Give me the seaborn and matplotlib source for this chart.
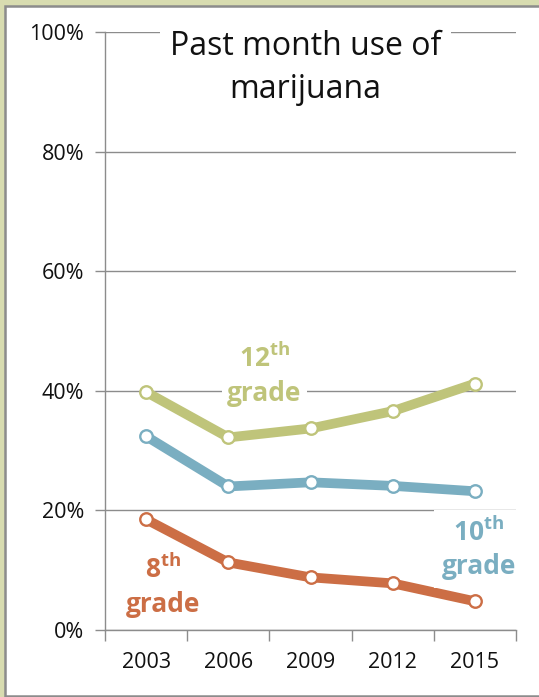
import matplotlib
matplotlib.use("Agg")
import matplotlib.pyplot as plt
from matplotlib.patches import Rectangle
from matplotlib.ticker import FixedLocator, FuncFormatter
import seaborn as sns
import pandas as pd

# Survey years and past-month marijuana use (%) by grade
years = ["2003", "2006", "2009", "2012", "2015"]
grade12 = [39.8, 32.2, 33.7, 36.6, 41.2]
grade10 = [32.4, 24.0, 24.7, 24.1, 23.2]
grade8 = [18.5, 11.3, 8.8, 7.8, 4.8]

grade_names = ["12th", "10th", "8th"]
colors = {"12th": "#BFC47A", "10th": "#7AAEC1", "8th": "#CC6E45"}

df = pd.DataFrame({
    "year": years * 3,
    "pct": grade12 + grade10 + grade8,
    "grade": [g for g in grade_names for _ in years],
})

sns.set_theme(style="white")
plt.rcParams["font.family"] = ["Open Sans", "DejaVu Sans"]
plt.rcParams["mathtext.fontset"] = "custom"
plt.rcParams["mathtext.rm"] = "Open Sans:bold"
plt.rcParams["mathtext.it"] = "Open Sans:bold"
plt.rcParams["mathtext.bf"] = "Open Sans:bold"

W, H = 539, 697
fig = plt.figure(figsize=(W / 100, H / 100), dpi=100, facecolor="#D8DCB0")

# white chart panel with a grey frame
panel = Rectangle((5 / W, 1 / H), 1.2, 1 - 7 / H, transform=fig.transFigure,
                  facecolor="white", edgecolor="#8C8C8C", linewidth=1.8, zorder=-1)
fig.add_artist(panel)

ax = fig.add_axes([105 / W, 1 - 630 / H, (516 - 105) / W, (630 - 32) / H])
ax.set_zorder(1)
ax.set_facecolor("none")

sns.lineplot(data=df, x="year", y="pct", hue="grade", hue_order=grade_names,
             palette=colors, sort=False, legend=False, ax=ax,
             linewidth=7, marker="o", markersize=9, zorder=3)
for line in ax.lines:
    line.set_markeredgecolor(line.get_color())
    line.set_markerfacecolor("white")
    line.set_markeredgewidth(1.7)
    line.set_solid_joinstyle("round")
    line.set_solid_capstyle("round")

ax.set_xlim(-0.5, len(years) - 0.5)
ax.set_ylim(0, 100)
ax.set_xlabel("")
ax.set_ylabel("")

grid_c = "#8C8C8C"
ax.yaxis.set_major_locator(FixedLocator([0, 20, 40, 60, 80, 100]))
ax.yaxis.set_major_formatter(FuncFormatter(lambda v, p: f"{v:.0f}%"))
ax.grid(axis="y", color=grid_c, linewidth=1.0, zorder=0)
ax.grid(axis="x", visible=False)
ax.set_axisbelow(True)

ax.tick_params(axis="y", which="major", left=True, length=7, width=1, color=grid_c,
               labelsize=15.5, labelcolor="#111111", pad=8)
ax.tick_params(axis="x", which="major", bottom=False, length=0, labelsize=15.5,
               labelcolor="#111111", pad=16)
ax.xaxis.set_minor_locator(FixedLocator([i - 0.5 for i in range(len(years) + 1)]))
ax.tick_params(axis="x", which="minor", bottom=True, length=8, width=1, color=grid_c)

for side in ["top", "right"]:
    ax.spines[side].set_visible(False)
for side in ["left", "bottom"]:
    ax.spines[side].set_color(grid_c)
    ax.spines[side].set_linewidth(1.0)

# chart title in a white box over the top gridline
ax.text(1.94, 94.0, "Past month use of\nmarijuana", ha="center", va="center",
        fontsize=23, color="#111111", linespacing=1.4, zorder=5,
        bbox=dict(boxstyle="square,pad=0.3", facecolor="white", edgecolor="none"))

# series labels
label_kw = dict(ha="center", va="center", fontsize=19, fontweight="bold",
                linespacing=1.3, zorder=5)
ax.text(1.44, 42.6, "$12^{th}$\ngrade", color=colors["12th"],
        bbox=dict(boxstyle="square,pad=0.2", facecolor="white", edgecolor="none"),
        **label_kw)
ax.text(4.05, 13.6, "$10^{th}$\ngrade", color=colors["10th"],
        bbox=dict(boxstyle="square,pad=0.3", facecolor="white", edgecolor="none"),
        **label_kw)
ax.text(0.21, 7.3, "$8^{th}$\ngrade", color=colors["8th"], **label_kw)

fig.savefig("out.png", dpi=100, facecolor=fig.get_facecolor())
